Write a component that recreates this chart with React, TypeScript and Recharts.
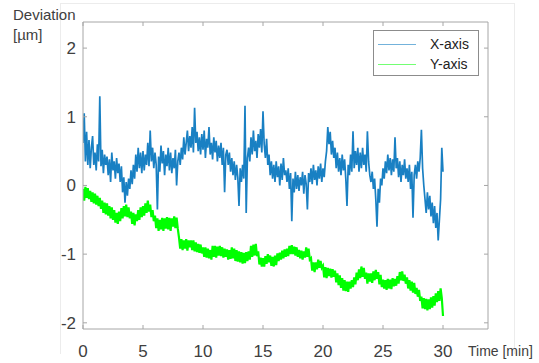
import { LineChart, Line, XAxis, YAxis } from "recharts";

// samples every 0.1 min, 0 .. 30 min
const SAMPLE_STEP = 0.1;

// X-axis deviation [µm], one row per minute
const X_DEV = [
  0.62, 1.05, 0.35, 0.78, 0.30, 0.66, 0.25, 0.55, 0.72, 0.30,
  0.48, 0.22, 0.60, 0.35, 1.30, 0.28, 0.52, 0.18, 0.45, 0.30,
  0.42, 0.15, 0.38, 0.05, 0.48, 0.22, 0.35, 0.10, 0.40, 0.18,
  0.32, 0.05, 0.28, -0.10, 0.12, -0.25, 0.05, -0.15, 0.10, -0.05,
  0.22, 0.02, 0.30, 0.10, 0.45, 0.20, 0.55, 0.25, 0.48, 0.18,
  0.50, 0.22, 0.45, 0.30, 0.62, 0.28, 0.80, 0.35, 0.55, 0.25,
  0.48, 0.30, -0.35, 0.42, 0.20, 0.58, 0.32, 0.50, 0.15, 0.45,
  0.28, 0.55, 0.22, 0.48, 0.18, 0.40, 0.25, 0.52, 0.00, 0.35,
  0.48, 0.30, 0.55, 0.38, 0.70, 0.45, 0.62, 0.80, 0.50, 0.72,
  0.55, 0.85, 0.48, 1.13, 0.62, 0.78, 0.50, 0.70, 0.45, 0.75,
  0.52, 0.80, 0.40, 0.68, 0.55, 0.85, 0.45, 0.62, 0.38, 0.70,
  0.48, 0.65, 0.35, 0.58, 0.40, 0.62, 0.30, 0.55, -0.10, 0.45,
  0.52, 0.30, 0.48, 0.20, 0.40, 0.15, 0.35, 0.08, 0.30, 0.12,
  -0.30, 0.25, 0.05, 0.30, 0.10, 1.16, -0.40, 0.40, 0.55, 0.35,
  0.70, 0.45, 0.80, 0.50, 0.65, 0.40, 0.75, 0.55, 0.82, 0.48,
  1.08, 0.60, 0.40, 0.68, 0.30, 0.45, 0.15, 0.35, 0.10, 0.30,
  0.05, 0.35, 0.12, 0.28, 0.00, 0.32, 0.08, 0.40, 0.15, 0.22,
  0.05, 0.25, -0.05, 0.18, -0.52, 0.10, -0.10, 0.20, -0.05, 0.15,
  -0.08, 0.12, 0.00, 0.20, -0.12, 0.15, 0.02, -0.35, 0.18, 0.05,
  0.25, 0.02, 0.30, 0.08, 0.22, 0.00, 0.28, 0.10, 0.32, 0.05,
  0.25, 0.12, 0.35, 0.50, 0.85, 0.60, 0.78, 0.45, 0.65, 0.40,
  0.55, 0.25, 0.48, 0.20, 0.40, 0.15, 0.45, 0.22, 0.38, 0.10,
  -0.30, 0.30, 0.15, 0.45, 0.20, 0.79, 0.25, 0.50, 0.30, 0.55,
  0.20, 0.48, 0.25, 0.55, 0.30, 0.45, 0.20, 0.79, 0.35, 0.15,
  0.05, 0.20, -0.05, 0.10, -0.20, -0.60, -0.05, -0.25, 0.10, 0.00,
  0.25, 0.10, 0.35, 0.18, 0.45, 0.22, 0.40, 0.15, 0.38, 0.20,
  0.70, 0.25, 0.40, 0.12, 0.35, 0.05, 0.30, 0.15, 0.38, 0.10,
  0.25, 0.05, 0.30, -0.05, 0.20, -0.47, 0.15, 0.30, 0.10, 0.35,
  0.20, 0.40, 0.81, 0.25, 0.00, -0.20, -0.40, -0.10, -0.35, -0.15,
  -0.45, -0.25, -0.55, -0.30, -0.62, -0.40, -0.80, -0.50, -0.20, 0.55,
  0.20,
];

// Y-axis deviation [µm]
const Y_DEV = [
  -0.05, -0.22, -0.02, -0.18, -0.04, -0.20, -0.08, -0.24, -0.10, -0.26,
  -0.12, -0.28, -0.15, -0.30, -0.18, -0.34, -0.22, -0.40, -0.25, -0.42,
  -0.26, -0.44, -0.30, -0.48, -0.32, -0.50, -0.36, -0.54, -0.40, -0.56,
  -0.38, -0.52, -0.33, -0.48, -0.30, -0.45, -0.28, -0.46, -0.32, -0.48,
  -0.38, -0.56, -0.40, -0.58, -0.42, -0.52, -0.36, -0.50, -0.32, -0.46,
  -0.30, -0.44, -0.26, -0.40, -0.22, -0.38, -0.28, -0.46, -0.36, -0.52,
  -0.44, -0.62, -0.48, -0.66, -0.50, -0.64, -0.47, -0.66, -0.48, -0.63,
  -0.46, -0.64, -0.47, -0.66, -0.48, -0.60, -0.45, -0.62, -0.47, -0.63,
  -0.76, -0.92, -0.78, -0.94, -0.80, -0.92, -0.78, -0.95, -0.80, -0.90,
  -0.80, -0.94, -0.80, -0.96, -0.83, -0.97, -0.85, -0.98, -0.86, -0.99,
  -0.90, -1.04, -0.90, -1.05, -0.92, -1.06, -0.94, -1.08, -0.88, -1.04,
  -0.88, -1.05, -0.89, -1.02, -0.88, -1.03, -0.90, -1.05, -0.92, -1.04,
  -0.93, -1.08, -0.94, -1.07, -0.90, -1.06, -0.92, -1.10, -0.94, -1.11,
  -0.96, -1.12, -0.97, -1.14, -0.98, -1.13, -0.97, -1.10, -0.96, -1.08,
  -0.88, -1.04, -0.86, -1.02, -0.85, -1.03, -0.96, -1.15, -1.05, -1.18,
  -1.06, -1.18, -1.03, -1.14, -1.00, -1.12, -1.02, -1.17, -1.04, -1.18,
  -1.02, -1.16, -0.99, -1.10, -0.98, -1.08, -0.95, -1.06, -0.93, -1.04,
  -0.92, -1.03, -0.88, -1.00, -0.87, -1.00, -0.89, -1.02, -0.90, -1.04,
  -0.94, -1.06, -0.95, -1.08, -0.96, -1.05, -0.90, -1.04, -0.92, -1.08,
  -1.06, -1.24, -1.12, -1.26, -1.12, -1.22, -1.08, -1.20, -1.10, -1.20,
  -1.17, -1.34, -1.19, -1.35, -1.20, -1.32, -1.21, -1.34, -1.22, -1.33,
  -1.24, -1.41, -1.28, -1.45, -1.31, -1.49, -1.35, -1.53, -1.38, -1.54,
  -1.40, -1.55, -1.40, -1.50, -1.38, -1.48, -1.34, -1.44, -1.27, -1.38,
  -1.22, -1.35, -1.18, -1.33, -1.20, -1.36, -1.27, -1.43, -1.28, -1.40,
  -1.28, -1.42, -1.25, -1.38, -1.23, -1.36, -1.26, -1.44, -1.30, -1.48,
  -1.37, -1.50, -1.38, -1.52, -1.36, -1.50, -1.37, -1.51, -1.35, -1.47,
  -1.36, -1.46, -1.32, -1.43, -1.26, -1.38, -1.25, -1.39, -1.30, -1.43,
  -1.34, -1.50, -1.38, -1.53, -1.40, -1.56, -1.42, -1.58, -1.49, -1.62,
  -1.52, -1.68, -1.62, -1.79, -1.64, -1.80, -1.65, -1.82, -1.66, -1.80,
  -1.63, -1.78, -1.61, -1.75, -1.57, -1.70, -1.54, -1.68, -1.50, -1.64,
  -1.90,
];

const X_TICKS = [0, 5, 10, 15, 20, 25, 30];
const Y_TICKS = [-2, -1, 0, 1, 2];

const AXIS = "#a6a6a6";
const TXT = "#404040";
const BLUE = "#0072bd";
const GREEN = "#00ff00";
const FONT = "'Liberation Sans', Arial, sans-serif";

const data = X_DEV.map((v, i) => ({
  t: +(i * SAMPLE_STEP).toFixed(1),
  x: v,
  y: Y_DEV[i],
}));

function LeftTick(props: any) {
  const { x, y, payload } = props;
  return (
    <g>
      <line x1={x} x2={x + 4} y1={y} y2={y} stroke={AXIS} />
      <text x={x - 7} y={y + 6} textAnchor="end" fontSize={17} fill={TXT} fontFamily={FONT}>
        {payload.value}
      </text>
    </g>
  );
}
function RightTick(props: any) {
  const { x, y } = props;
  return <line x1={x} x2={x - 4} y1={y} y2={y} stroke={AXIS} />;
}
function BottomTick(props: any) {
  const { x, y, payload } = props;
  return (
    <g>
      <line x1={x} x2={x} y1={y} y2={y - 4} stroke={AXIS} />
      <text x={x} y={y + 28} textAnchor="middle" fontSize={17} fill={TXT} fontFamily={FONT}>
        {payload.value}
      </text>
    </g>
  );
}
function TopTick(props: any) {
  const { x, y } = props;
  return <line x1={x} x2={x} y1={y} y2={y + 4} stroke={AXIS} />;
}

function LegendBox() {
  const row = (color: string, label: string) => (
    <div style={{ display: "flex", alignItems: "center", height: 20 }}>
      <div style={{ width: 38, height: 1, background: color, opacity: 0.55, marginLeft: 4 }} />
      <span style={{ marginLeft: 14, fontSize: 14, color: "#222", fontFamily: FONT }}>{label}</span>
    </div>
  );
  return (
    <div style={{ position: "absolute", left: 373, top: 30, width: 106, height: 46, border: "1px solid #8c8c8c", background: "#fff", boxSizing: "border-box", paddingTop: 3 }}>
      {row(BLUE, "X-axis")}
      {row(GREEN, "Y-axis")}
    </div>
  );
}

export default function App() {
  return (
    <div style={{ position: "absolute", left: 0, top: 0, width: 539, height: 363, background: "#fff", fontFamily: FONT }}>
      {/* faint slide frame */}
      <div style={{ position: "absolute", left: 60, top: 3, width: 453, height: 350, borderLeft: "1px solid #ececec", borderTop: "1px solid #ececec", borderRight: "1px solid #ececec" }} />
      <LineChart width={539} height={363} data={data} margin={{ top: 0, right: 0, bottom: 0, left: 0 }}>
        <XAxis xAxisId="b" dataKey="t" type="number" domain={[0, 33.75]} ticks={X_TICKS}
          height={34} stroke={AXIS} tickLine={false} tickSize={0} tickMargin={0} tick={<BottomTick />} allowDataOverflow />
        <XAxis xAxisId="t" orientation="top" dataKey="t" type="number" domain={[0, 33.75]} ticks={X_TICKS}
          height={22} stroke={AXIS} tickLine={false} tickSize={0} tickMargin={0} tick={<TopTick />} allowDataOverflow />
        <YAxis yAxisId="l" type="number" domain={[-2.09, 2.38]} ticks={Y_TICKS}
          width={83} stroke={AXIS} tickLine={false} tickSize={0} tickMargin={0} tick={<LeftTick />} allowDataOverflow />
        <YAxis yAxisId="r" orientation="right" type="number" domain={[-2.09, 2.38]} ticks={Y_TICKS}
          width={51} stroke={AXIS} tickLine={false} tickSize={0} tickMargin={0} tick={<RightTick />} allowDataOverflow />
        <Line xAxisId="b" yAxisId="l" dataKey="x" type="linear" stroke={BLUE} strokeWidth={1.7} strokeOpacity={0.9} dot={false} isAnimationActive={false} />
        <Line xAxisId="b" yAxisId="l" dataKey="y" type="linear" stroke={GREEN} strokeWidth={2.2} dot={false} isAnimationActive={false} />
      </LineChart>
      <LegendBox />
      <div style={{ position: "absolute", left: 13, top: 5, fontSize: 15, color: TXT, lineHeight: "20px" }}>
        Deviation<br />[µm]
      </div>
      <div style={{ position: "absolute", left: 468, top: 343, fontSize: 14, color: TXT, whiteSpace: "nowrap" }}>
        Time [min]
      </div>
    </div>
  );
}
